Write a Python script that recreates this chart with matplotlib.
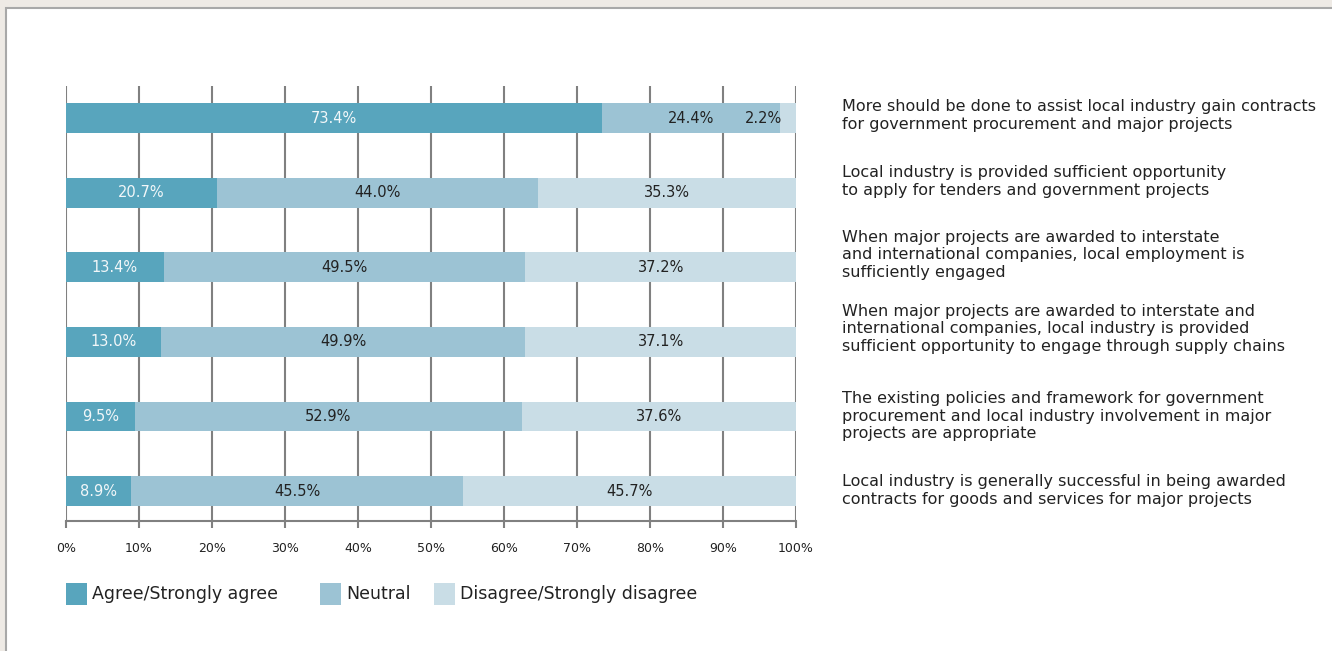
import matplotlib
matplotlib.use("Agg")
import matplotlib.pyplot as plt
from matplotlib.patches import Rectangle

# survey statements (top to bottom)
statements = [
    "More should be done to assist local industry gain contracts\nfor government procurement and major projects",
    "Local industry is provided sufficient opportunity\nto apply for tenders and government projects",
    "When major projects are awarded to interstate\nand international companies, local employment is\nsufficiently engaged",
    "When major projects are awarded to interstate and\ninternational companies, local industry is provided\nsufficient opportunity to engage through supply chains",
    "The existing policies and framework for government\nprocurement and local industry involvement in major\nprojects are appropriate",
    "Local industry is generally successful in being awarded\ncontracts for goods and services for major projects",
]
series_names = ["Agree/Strongly agree", "Neutral", "Disagree/Strongly disagree"]
agree = [73.4, 20.7, 13.4, 13.0, 9.5, 8.9]
neutral = [24.4, 44.0, 49.5, 49.9, 52.9, 45.5]
disagree = [2.2, 35.3, 37.2, 37.1, 37.6, 45.7]
x_ticks = [0, 10, 20, 30, 40, 50, 60, 70, 80, 90, 100]

colors = ["#58a5bd", "#9cc3d4", "#c9dde6"]
text_colors = ["#f2f7f9", "#222222", "#222222"]
grid_c = "#808080"

plt.rcParams["font.family"] = "DejaVu Sans"

W, H = 1332, 651
fig = plt.figure(figsize=(W / 100, H / 100), dpi=100)
fig.patch.set_facecolor("#eeeae5")

# white panel with grey border (only left and top edges show)
panel = Rectangle((6 / W, -0.1), 1.2, 1.1 - 8 / H, transform=fig.transFigure,
                  facecolor="white", edgecolor="#a8a8a8", linewidth=1.5, zorder=0)
fig.add_artist(panel)

ax = fig.add_axes([66 / W, (H - 521) / H, 730 / W, 435 / H])
ax.set_facecolor("none")
ax.set_xlim(0, 100)
n = len(statements)
ax.set_ylim(n - 1 + 0.402, -0.43)
ys = list(range(n))

for xt in x_ticks:
    ax.axvline(xt, color=grid_c, linewidth=1.5, zorder=1)

series = [agree, neutral, disagree]
left = [0.0] * n
for k, vals in enumerate(series):
    ax.barh(ys, vals, left=left, height=0.40, color=colors[k], zorder=2)
    for i, v in enumerate(vals):
        if v < 5:
            ax.text(left[i] + v - 1.9, ys[i], f"{v:.1f}%", ha="right", va="center",
                    fontsize=10.5, color=text_colors[k], zorder=3)
        else:
            ax.text(left[i] + v / 2, ys[i], f"{v:.1f}%", ha="center", va="center",
                    fontsize=10.5, color=text_colors[k], zorder=3)
    left = [a + b for a, b in zip(left, vals)]

for s in ["top", "right", "left"]:
    ax.spines[s].set_visible(False)
ax.spines["bottom"].set_color(grid_c)
ax.spines["bottom"].set_linewidth(1.5)
ax.set_yticks([])
ax.set_xticks(x_ticks)
ax.set_xticklabels([f"{t}%" for t in x_ticks])
ax.tick_params(axis="x", length=5, width=1.5, color=grid_c, pad=10,
               labelsize=9, labelcolor="#222222")

# statement labels on the right
label_y = [115.5, 181.5, 255, 329, 416, 490.5]
for s, yy in zip(statements, label_y):
    fig.text(842 / W, 1 - yy / H, s, ha="left", va="center", fontsize=11.5,
             color="#222222", linespacing=1.2)

# legend
leg_x = [66, 320, 434]
for name, c, lx in zip(series_names, colors, leg_x):
    fig.add_artist(Rectangle((lx / W, 1 - 605 / H), 21 / W, 22 / H,
                             transform=fig.transFigure, facecolor=c, edgecolor="none"))
    fig.text((lx + 26) / W, 1 - 594 / H, name, ha="left", va="center",
             fontsize=12.5, color="#222222")

fig.savefig("out.png", dpi=100, facecolor=fig.get_facecolor())
